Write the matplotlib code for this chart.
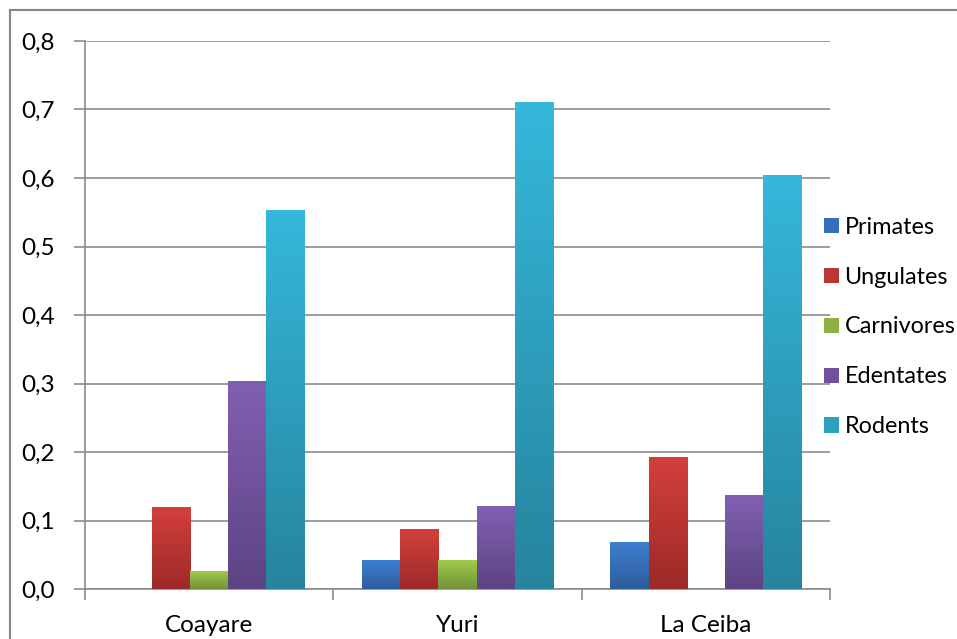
import matplotlib
matplotlib.use("Agg")
import matplotlib.pyplot as plt
import numpy as np
from matplotlib.patches import Rectangle, Patch
from matplotlib.colors import LinearSegmentedColormap
from matplotlib.ticker import FuncFormatter, FixedLocator

plt.rcParams['font.family'] = ['Lato', 'DejaVu Sans']

categories = ["Coayare", "Yuri", "La Ceiba"]
series_names = ["Primates", "Ungulates", "Carnivores", "Edentates", "Rodents"]
primates = [0.0, 0.042, 0.068]
ungulates = [0.120, 0.087, 0.193]
carnivores = [0.026, 0.042, 0.0]
edentates = [0.304, 0.121, 0.137]
rodents = [0.553, 0.711, 0.604]
series_values = [primates, ungulates, carnivores, edentates, rodents]

top_colors = ["#3E7FD2", "#D4403C", "#A0CB4C", "#8160B2", "#35B8DB"]
bottom_colors = ["#2D5C9A", "#9C2A28", "#72923A", "#5D4483", "#26849E"]
mid_colors = ["#366FBA", "#BC3734", "#8DB243", "#70529C", "#2EA0C0"]

W, H = 957, 639
fig = plt.figure(figsize=(W / 100, H / 100), dpi=100)
ax = fig.add_axes([85 / W, 1 - 589 / H, (830 - 85) / W, (589 - 41) / H])

n = len(series_names)
gap = 1.5
bw = 1.0 / (n + gap)
x = np.arange(len(categories))
grid_color = "#8C8C8C"

ax.set_xlim(-0.5, len(categories) - 0.5)
ax.set_ylim(0, 0.8)
ax.set_yticks(np.arange(0, 0.81, 0.1))
ax.yaxis.grid(True, color=grid_color, linewidth=1.2)
ax.set_axisbelow(True)

for i, (name, vals) in enumerate(zip(series_names, series_values)):
    offs = (i - (n - 1) / 2) * bw
    bars = ax.bar(x + offs, vals, width=bw, color=mid_colors[i], linewidth=0, zorder=2)
    cmap = LinearSegmentedColormap.from_list(name, [bottom_colors[i], top_colors[i]])
    for b in bars:
        h = b.get_height()
        if h <= 0:
            continue
        bx, by, bwid = b.get_x(), b.get_y(), b.get_width()
        grad = np.linspace(0, 1, 256).reshape(-1, 1)
        im = ax.imshow(grad, cmap=cmap, origin="lower", aspect="auto",
                       extent=[bx, bx + bwid, by, by + h], zorder=3)
        im.set_clip_path(b)

ax.set_xlim(-0.5, len(categories) - 0.5)
ax.set_ylim(0, 0.8)

ax.set_xticks(x)
ax.set_xticklabels(categories)
ax.xaxis.set_minor_locator(FixedLocator(np.arange(-0.5, len(categories), 1.0)))
ax.tick_params(axis="x", which="major", length=0, pad=19, labelsize=17.5)
ax.tick_params(axis="x", which="minor", length=8, width=1.2, color=grid_color, direction="out")
ax.tick_params(axis="y", length=8, width=1.2, color=grid_color, pad=14, labelsize=17.5)
ax.yaxis.set_major_formatter(FuncFormatter(lambda v, p: f"{v:.1f}".replace(".", ",")))

for s in ["top", "right"]:
    ax.spines[s].set_visible(False)
ax.spines["left"].set_color(grid_color)
ax.spines["bottom"].set_color(grid_color)
ax.spines["left"].set_linewidth(1.2)
ax.spines["bottom"].set_linewidth(1.2)

handles = [Patch(facecolor=c, edgecolor="none") for c in mid_colors]
leg = ax.legend(handles, series_names, loc="center left",
                bbox_to_anchor=(815 / W, 1 - 327 / H), bbox_transform=fig.transFigure,
                frameon=False, fontsize=16.8, handlelength=0.64, handleheight=0.64,
                handletextpad=0.22, labelspacing=1.24, borderaxespad=0)

fig.patches.append(Rectangle((10 / W, -0.1), 1.2, 1 - 10 / H + 0.1,
                             transform=fig.transFigure, fill=False,
                             edgecolor="#868686", linewidth=1.5))

fig.savefig("out.png", dpi=100)
